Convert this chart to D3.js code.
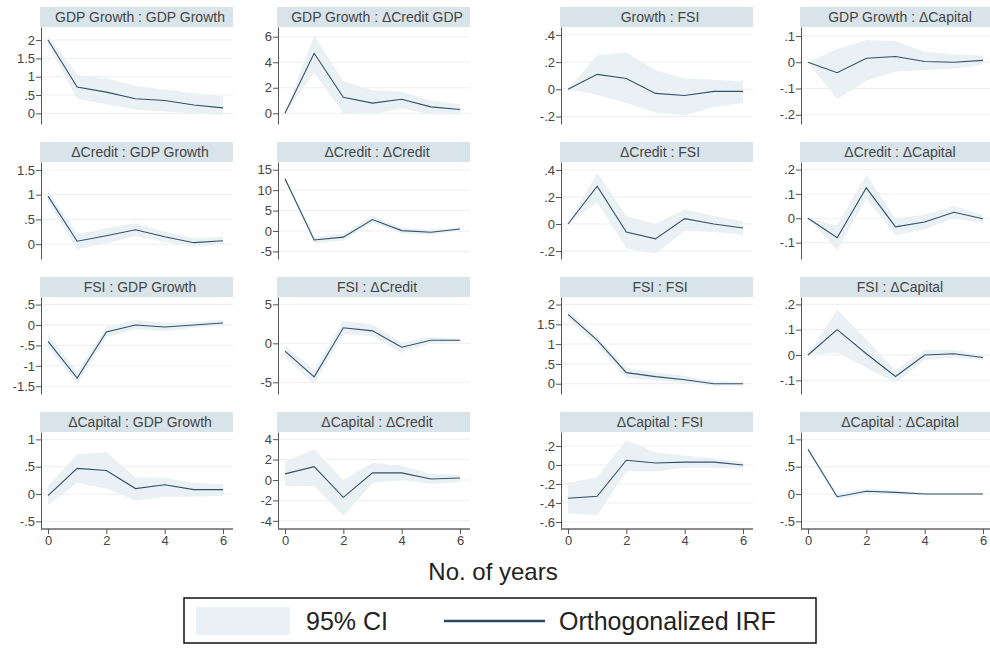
<!DOCTYPE html>
<html>
<head>
<meta charset="utf-8">
<script src="https://cdn.jsdelivr.net/npm/d3@7"></script>
<style>
  body { margin: 0; background: #fff; }
  text { font-family: "Liberation Sans", Arial, sans-serif; }
</style>
</head>
<body>
<div id="chart"></div>
<script>
// impulse : response, row by row
const steps = [0, 1, 2, 3, 4, 5, 6];

const titles = [
  "GDP Growth : GDP Growth", "GDP Growth : \u0394Credit GDP", "Growth : FSI", "GDP Growth : \u0394Capital",
  "\u0394Credit : GDP Growth", "\u0394Credit : \u0394Credit", "\u0394Credit : FSI", "\u0394Credit : \u0394Capital",
  "FSI : GDP Growth", "FSI : \u0394Credit", "FSI : FSI", "FSI : \u0394Capital",
  "\u0394Capital : GDP Growth", "\u0394Capital : \u0394Credit", "\u0394Capital : FSI", "\u0394Capital : \u0394Capital"
];

const irf = [
  [2.0, 0.72, 0.58, 0.40, 0.35, 0.23, 0.15],
  [0, 4.7, 1.25, 0.8, 1.1, 0.5, 0.3],
  [0, 0.11, 0.08, -0.03, -0.045, -0.015, -0.015],
  [0, -0.04, 0.015, 0.022, 0.003, 0.0, 0.007],
  [0.97, 0.06, 0.17, 0.29, 0.15, 0.03, 0.07],
  [12.8, -2.2, -1.5, 2.8, 0.1, -0.3, 0.5],
  [0, 0.28, -0.06, -0.11, 0.04, 0.0, -0.03],
  [0, -0.08, 0.125, -0.035, -0.015, 0.025, -0.002],
  [-0.4, -1.3, -0.17, 0.0, -0.05, 0.0, 0.05],
  [-1.0, -4.3, 2.0, 1.6, -0.5, 0.4, 0.4],
  [1.75, 1.1, 0.28, 0.18, 0.1, 0.0, 0.0],
  [0, 0.1, 0.005, -0.085, 0.0, 0.005, -0.01],
  [-0.03, 0.47, 0.43, 0.1, 0.17, 0.08, 0.08],
  [0.6, 1.3, -1.7, 0.7, 0.7, 0.1, 0.2],
  [-0.35, -0.33, 0.05, 0.02, 0.03, 0.03, 0.0],
  [0.82, -0.05, 0.05, 0.03, 0.0, 0.0, 0.0]
];

const ciLower = [
  [1.88, 0.40, 0.25, 0.10, 0.05, 0.0, -0.05],
  [0, 3.2, 0.0, -0.1, 0.4, -0.1, -0.1],
  [0, -0.04, -0.10, -0.17, -0.19, -0.13, -0.10],
  [0, -0.14, -0.07, -0.035, -0.03, -0.025, -0.01],
  [0.85, -0.1, 0.02, 0.16, 0.05, -0.05, 0.0],
  [12.3, -3.0, -2.3, 2.0, -0.6, -0.9, 0.1],
  [0, 0.16, -0.18, -0.22, -0.05, -0.06, -0.08],
  [0, -0.13, 0.08, -0.07, -0.045, 0.0, -0.02],
  [-0.55, -1.45, -0.3, -0.1, -0.15, -0.07, -0.02],
  [-1.8, -5.2, 1.2, 0.9, -1.2, 0.0, 0.2],
  [1.65, 0.95, 0.15, 0.08, 0.02, -0.05, -0.05],
  [0, 0.01, -0.05, -0.11, -0.02, -0.01, -0.02],
  [-0.2, 0.2, 0.1, -0.12, -0.05, -0.05, -0.03],
  [-0.6, -0.6, -3.5, -0.3, 0.0, -0.4, -0.2],
  [-0.51, -0.53, -0.07, -0.07, -0.03, -0.03, -0.04],
  [0.77, -0.1, 0.0, -0.01, -0.02, -0.01, -0.01]
];

const ciUpper = [
  [2.12, 1.05, 0.95, 0.75, 0.65, 0.55, 0.45],
  [0, 6.1, 2.5, 1.8, 1.7, 1.0, 0.7],
  [0, 0.25, 0.27, 0.14, 0.08, 0.07, 0.06],
  [0, 0.05, 0.085, 0.08, 0.04, 0.03, 0.025],
  [1.1, 0.2, 0.32, 0.42, 0.25, 0.12, 0.15],
  [13.3, -1.4, -0.7, 3.8, 0.8, 0.3, 0.9],
  [0, 0.38, 0.06, 0.0, 0.11, 0.06, 0.02],
  [0, -0.03, 0.18, 0.0, 0.015, 0.05, 0.015],
  [-0.22, -1.15, -0.05, 0.12, 0.05, 0.07, 0.12],
  [-0.3, -3.4, 2.9, 2.4, 0.1, 0.8, 0.6],
  [1.85, 1.2, 0.4, 0.28, 0.2, 0.06, 0.04],
  [0, 0.18, 0.06, -0.06, 0.02, 0.02, 0.0],
  [0.15, 0.73, 0.77, 0.3, 0.3, 0.2, 0.18],
  [1.8, 3.0, 0.0, 1.7, 1.4, 0.6, 0.5],
  [-0.19, -0.13, 0.26, 0.13, 0.1, 0.07, 0.03],
  [0.87, 0.0, 0.1, 0.06, 0.02, 0.01, 0.01]
];

const yTicks = [
  [0, 0.5, 1, 1.5, 2], [0, 2, 4, 6], [-0.2, 0, 0.2, 0.4], [-0.2, -0.1, 0, 0.1],
  [0, 0.5, 1, 1.5], [-5, 0, 5, 10, 15], [-0.2, 0, 0.2, 0.4], [-0.1, 0, 0.1, 0.2],
  [-1.5, -1, -0.5, 0, 0.5], [-5, 0, 5], [0, 0.5, 1, 1.5, 2], [-0.1, 0, 0.1, 0.2],
  [-0.5, 0, 0.5, 1], [-4, -2, 0, 2, 4], [-0.6, -0.4, -0.2, 0, 0.2], [-0.5, 0, 0.5, 1]
];

// axis range of each panel [min, max]
const yRange = [
  [-0.29, 2.355], [-0.84, 6.76], [-0.255, 0.458], [-0.235, 0.134],
  [-0.30, 1.66], [-6.86, 16.9], [-0.259, 0.459], [-0.167, 0.231],
  [-1.69, 0.686], [-6.5, 5.94], [-0.26, 2.19], [-0.154, 0.229],
  [-0.64, 1.135], [-4.8, 4.7], [-0.674, 0.347], [-0.64, 1.135]
];

const xTicks = [0, 2, 4, 6];

const width = 990, height = 648;
const colX = [41, 278, 561, 801];
const rowY = [7, 142, 277, 412];
const titleH = 20, plotH = 97, plotW = 192;

const fmt = d => d === 0 ? "0" : String(d).replace(/^(-?)0\./, "$1.");

const svg = d3.select("#chart").append("svg")
    .attr("width", width)
    .attr("height", height);

titles.forEach(function(t, i) {
  const r = Math.floor(i / 4), c = i % 4;
  const g = svg.append("g")
      .attr("transform", "translate(" + colX[c] + "," + rowY[r] + ")");

  const x = d3.scaleLinear().domain([0, 6]).range([7, 182]);
  const y = d3.scaleLinear().domain(yRange[i]).range([titleH + plotH, titleH]);

  g.append("rect")
    .attr("x", -1).attr("y", 0)
    .attr("width", plotW + 1).attr("height", titleH)
    .attr("fill", "#d9e4ea");
  g.append("text")
    .attr("x", plotW / 2 + 3).attr("y", 15)
    .attr("text-anchor", "middle")
    .attr("font-size", 14)
    .attr("fill", "#444")
    .text(t);

  g.append("g").selectAll("line")
    .data(yTicks[i])
    .enter().append("line")
    .attr("x1", 0).attr("x2", plotW)
    .attr("y1", d => y(d)).attr("y2", d => y(d))
    .attr("stroke", "#eeeeee");

  const pts = steps.map((s, k) => ({ s: s, v: irf[i][k], lo: ciLower[i][k], hi: ciUpper[i][k] }));

  g.append("path")
    .datum(pts)
    .attr("fill", "#e9f1f4")
    .attr("d", d3.area().x(d => x(d.s)).y0(d => y(d.lo)).y1(d => y(d.hi)));

  g.append("path")
    .datum(pts)
    .attr("fill", "none")
    .attr("stroke", "#34506b")
    .attr("stroke-width", 1.1)
    .attr("d", d3.line().x(d => x(d.s)).y(d => y(d.v)));

  const yAxis = g.append("g")
      .call(d3.axisLeft(y).tickValues(yTicks[i]).tickFormat(fmt).tickSize(5).tickSizeOuter(0));
  yAxis.select(".domain").attr("stroke", "#555");
  yAxis.selectAll(".tick line").attr("stroke", "#555");
  yAxis.selectAll(".tick text").attr("font-size", 13).attr("fill", "#444")
    .attr("font-family", "Liberation Sans, Arial, sans-serif").attr("x", -6);

  if (r === 3) {
    const xAxis = g.append("g")
        .attr("transform", "translate(0," + (titleH + plotH) + ")")
        .call(d3.axisBottom(x).tickValues(xTicks).tickFormat(d3.format("d")).tickSize(5).tickSizeOuter(0));
    xAxis.select(".domain").attr("stroke", "#666").attr("stroke-width", 1.5)
      .attr("d", "M0,0H" + plotW);
    xAxis.selectAll(".tick line").attr("stroke", "#555");
    xAxis.selectAll(".tick text").attr("font-size", 13).attr("fill", "#444")
      .attr("font-family", "Liberation Sans, Arial, sans-serif").attr("y", 7);
  }
});

svg.append("text")
  .attr("x", 493).attr("y", 580)
  .attr("text-anchor", "middle")
  .attr("font-size", 24)
  .attr("fill", "#222")
  .text("No. of years");

const legend = svg.append("g");
legend.append("rect")
  .attr("x", 184).attr("y", 598).attr("width", 632).attr("height", 45)
  .attr("fill", "#fff").attr("stroke", "#111").attr("stroke-width", 1.5);
legend.append("rect")
  .attr("x", 196).attr("y", 607).attr("width", 94).attr("height", 28)
  .attr("fill", "#e9f1f4");
legend.append("text")
  .attr("x", 306).attr("y", 630)
  .attr("font-size", 25).attr("fill", "#222")
  .text("95% CI");
legend.append("line")
  .attr("x1", 444).attr("x2", 545).attr("y1", 621).attr("y2", 621)
  .attr("stroke", "#2c4a66").attr("stroke-width", 2.5);
legend.append("text")
  .attr("x", 559).attr("y", 630)
  .attr("font-size", 25).attr("fill", "#222")
  .text("Orthogonalized IRF");
</script>
</body>
</html>
